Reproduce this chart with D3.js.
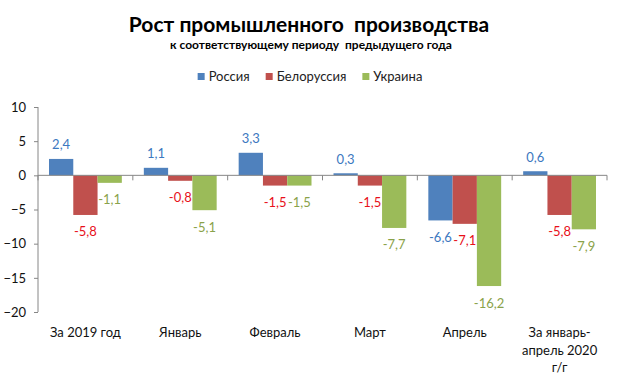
<!DOCTYPE html>
<html>
<head>
<meta charset="utf-8">
<script src="https://cdn.jsdelivr.net/npm/d3@7"></script>
<style>
body{margin:0;background:#fff;}
svg text{font-family:Lato,"Open Sans",sans-serif;}
</style>
</head>
<body>
<div id="chart"></div>
<script>
var categories = [["За 2019 год"], ["Январь"], ["Февраль"], ["Март"], ["Апрель"], ["За январь-", "апрель 2020", "г/г"]];
var seriesNames = ["Россия", "Белоруссия", "Украина"];
var russia = [2.4, 1.1, 3.3, 0.3, -6.6, 0.6];
var belarus = [-5.8, -0.8, -1.5, -1.5, -7.1, -5.8];
var ukraine = [-1.1, -5.1, -1.5, -7.7, -16.2, -7.9];
var yTicks = [10, 5, 0, -5, -10, -15, -20];
var barColor = ["#4F81BD", "#C0504D", "#9BBB59"];
var labelColor = ["#3C78C0", "#E8101A", "#8AA24A"];

var width = 620, height = 381;
var plotLeft = 38, plotRight = 607, plotTop = 107, plotBottom = 312;

var svg = d3.select("#chart").append("svg").attr("width", width).attr("height", height);

var values = [russia, belarus, ukraine];

var x0 = d3.scaleBand().domain(d3.range(categories.length)).range([plotLeft, plotRight]).padding(0);
var x1 = d3.scaleBand().domain(d3.range(seriesNames.length)).range([11, x0.bandwidth() - 11]).padding(0);
var y = d3.scaleLinear().domain([-20, 10]).range([plotBottom, plotTop]);

// title
svg.append("text").attr("x", 309).attr("y", 32).attr("text-anchor", "middle")
	.style("font-size", "21px").style("font-weight", "bold").style("white-space", "pre").attr("fill", "#000")
	.text("Рост промышленного  производства");
svg.append("text").attr("x", 311).attr("y", 48.5).attr("text-anchor", "middle")
	.style("font-size", "12px").style("font-weight", "bold").style("white-space", "pre").attr("fill", "#000")
	.text("к соответствующему периоду  предыдущего года");

// legend
var legend = svg.append("g");
var lx = 0;
for(var i=0;i<seriesNames.length;i++)
{
	legend.append("rect").attr("x", lx).attr("y", 73).attr("width", 7).attr("height", 7).attr("fill", barColor[i]);
	var t = legend.append("text").attr("x", lx + 11).attr("y", 80.5).style("font-size", "13px").attr("fill", "#222").text(seriesNames[i]);
	lx += 11 + t.node().getComputedTextLength() + 16;
}
lx -= 16;
legend.attr("transform", "translate(" + (310 - lx / 2) + ",0)");

// y axis
var yAxis = d3.axisLeft(y).tickValues(yTicks).tickSize(4).tickPadding(8).tickFormat(d3.format("d"));
var gy = svg.append("g").attr("transform", "translate(" + plotLeft + ",0)").call(yAxis);
gy.select(".domain").attr("stroke", "#868686").attr("d", "M0," + plotTop + "V" + plotBottom);
gy.selectAll(".tick line").attr("stroke", "#868686");
gy.selectAll(".tick text").style("font-size", "13px").attr("fill", "#111").style("font-family", "Lato,'Open Sans',sans-serif");

// bars
for(var s=0;s<values.length;s++)
{
	svg.append("g").selectAll("rect").data(values[s]).enter().append("rect")
		.attr("x", function(d, i) { return x0(i) + x1(s); })
		.attr("y", function(d) { return y(Math.max(0, d)); })
		.attr("width", x1.bandwidth())
		.attr("height", function(d) { return Math.abs(y(d) - y(0)); })
		.attr("fill", barColor[s]);
}

// x axis line with boundary ticks
var bounds = d3.range(categories.length + 1).map(function(i) { return i < categories.length ? x0(i) : plotRight; });
svg.append("line").attr("x1", plotLeft).attr("x2", plotRight).attr("y1", y(0)).attr("y2", y(0)).attr("stroke", "#868686");
svg.selectAll(".xtick").data(bounds).enter().append("line").attr("class", "xtick")
	.attr("x1", function(d) { return d; }).attr("x2", function(d) { return d; })
	.attr("y1", y(0)).attr("y2", y(0) + 5).attr("stroke", "#868686");

// data labels
for(var s=0;s<values.length;s++)
{
	svg.append("g").selectAll("text").data(values[s]).enter().append("text")
		.attr("x", function(d, i) { return x0(i) + x1(s) + x1.bandwidth() / 2; })
		.attr("y", function(d) { return d >= 0 ? y(d) - 14 + 4.5 : y(d) + 17 + 4.5; })
		.attr("text-anchor", "middle").style("font-size", "13px").attr("fill", labelColor[s])
		.text(function(d) { return d3.format(".1f")(d).replace(".", ",").replace("−", "-"); });
}

// category labels
var cat = svg.append("g").selectAll("text").data(categories).enter().append("text")
	.attr("text-anchor", "middle").style("font-size", "13px").attr("fill", "#111")
	.attr("x", function(d, i) { return x0(i) + x0.bandwidth() / 2; })
	.attr("y", 337);
cat.selectAll("tspan").data(function(d) { return d; }).enter().append("tspan")
	.attr("x", function() { return d3.select(this.parentNode).attr("x"); })
	.attr("dy", function(d, i) { return i == 0 ? 0 : 17.5; })
	.text(function(d) { return d; });
</script>
</body>
</html>
